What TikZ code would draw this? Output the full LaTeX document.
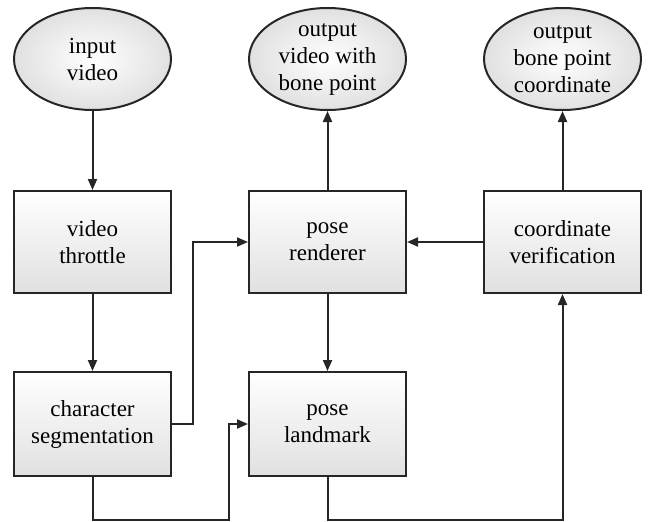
\documentclass[tikz,border=0pt]{standalone}
\usepackage{fontspec}
\setmainfont{Liberation Serif}
\usetikzlibrary{arrows.meta,shapes.geometric}

\tikzset{
  stage/.style={draw=black!85, line width=2pt, rectangle,
    minimum width=157pt, minimum height=102pt, inner sep=0pt,
    top color=white, bottom color=black!12, align=center,
    font=\fontsize{23}{27}\selectfont},
  terminal/.style={draw=black!85, line width=2pt, ellipse,
    minimum width=157pt, minimum height=102pt, inner sep=0pt,
    inner color=white, outer color=black!12, align=center,
    font=\fontsize{23}{27}\selectfont},
  flow/.style={draw=black!85, line width=2pt,
    -{Triangle[length=11pt,width=9pt]}}
}

\begin{document}
\begin{tikzpicture}[x=1pt,y=-1pt]
  \useasboundingbox (0,0) rectangle (651,522);

  % sources and outputs
  \node[terminal] (invid)  at (92.5,59)  {input\\video};
  \node[terminal] (outvid) at (327.5,59) {output\\video with\\bone point};
  \node[terminal] (outco)  at (562.5,59) {output\\bone point\\coordinate};

  % processing stages
  \node[stage] (thr) at (92.5,242)  {video\\throttle};
  \node[stage] (ren) at (327.5,242) {pose\\renderer};
  \node[stage] (ver) at (562.5,242) {coordinate\\verification};
  \node[stage, minimum height=104pt] (seg)  at (92.5,424)  {character\\segmentation};
  \node[stage, minimum height=104pt] (land) at (327.5,424) {pose\\landmark};

  % routing points along the lower edge
  \coordinate (ja) at (229,520);
  \coordinate (jb) at (562.5,520);
  \coordinate (jc) at (193,424);

  % connections
  \draw[flow] (invid) -- (thr);
  \draw[flow] (thr) -- (seg);
  \draw[flow] (seg.east) -- (jc) |- (ren.west);
  \draw[flow] (seg.south) |- (ja) |- (land.west);
  \draw[flow] (ren) -- (land);
  \draw[flow] (land.south) |- (jb) -- (ver.south);
  \draw[flow] (ver) -- (ren);
  \draw[flow] (ren) -- (outvid);
  \draw[flow] (ver) -- (outco);
\end{tikzpicture}
\end{document}
